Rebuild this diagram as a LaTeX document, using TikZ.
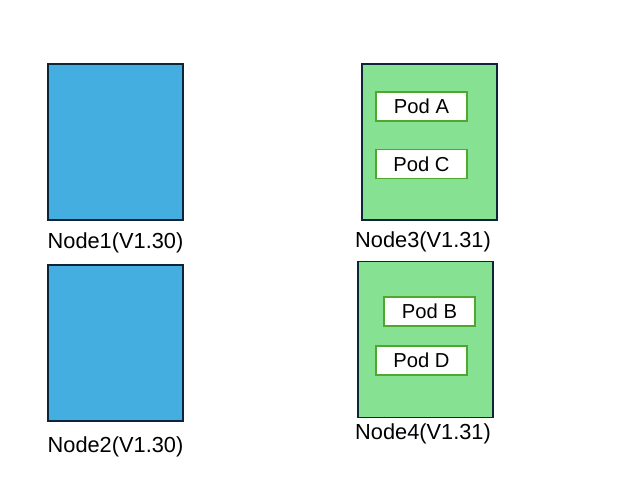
\documentclass[tikz,border=0pt]{standalone}
\usepackage{fontspec}
\setmainfont{Liberation Sans}
\definecolor{nodeblue}{RGB}{69,174,224}
\definecolor{nodegreen}{RGB}{134,226,146}
\definecolor{frame}{RGB}{13,37,56}
\definecolor{podline}{RGB}{78,167,46}
\begin{document}
\begin{tikzpicture}[x=0.02cm,y=-0.02cm,
    host/.style={draw=frame,line width=1.1pt,minimum width=2.7cm,minimum height=3.12cm,inner sep=0pt},
    pod/.style={draw=podline,fill=white,line width=1.1pt,minimum width=1.82cm,minimum height=0.58cm,inner sep=0pt,font=\fontsize{11.5}{13}\selectfont},
    hostlabel/.style={font=\fontsize{12.4}{14}\selectfont}]
    \useasboundingbox (0,0) rectangle (617,496);

    % old version hosts
    \node [host,fill=nodeblue] (n1) at (115.5,142) {};
    \node [host,fill=nodeblue] (n2) at (115.5,343) {};
    \node [hostlabel] (l1) at (115.5,243) {Node1(V1.30)};
    \node [hostlabel] (l2) at (115.5,447) {Node2(V1.30)};

    % new version hosts
    \node [host,fill=nodegreen] (n3) at (429.5,142) {};
    \node [host,fill=nodegreen] (n4) at (425.5,339.5) {};
    \node [hostlabel] (l3) at (423,242) {Node3(V1.31)};
    \node [hostlabel] (l4) at (423,434) {Node4(V1.31)};

    \node [pod] (pa) at (421.5,106.5) {Pod A};
    \node [pod] (pc) at (421.5,164) {Pod C};
    \node [pod] (pb) at (429.5,311.5) {Pod B};
    \node [pod] (pd) at (421.5,360.5) {Pod D};
\end{tikzpicture}
\end{document}
